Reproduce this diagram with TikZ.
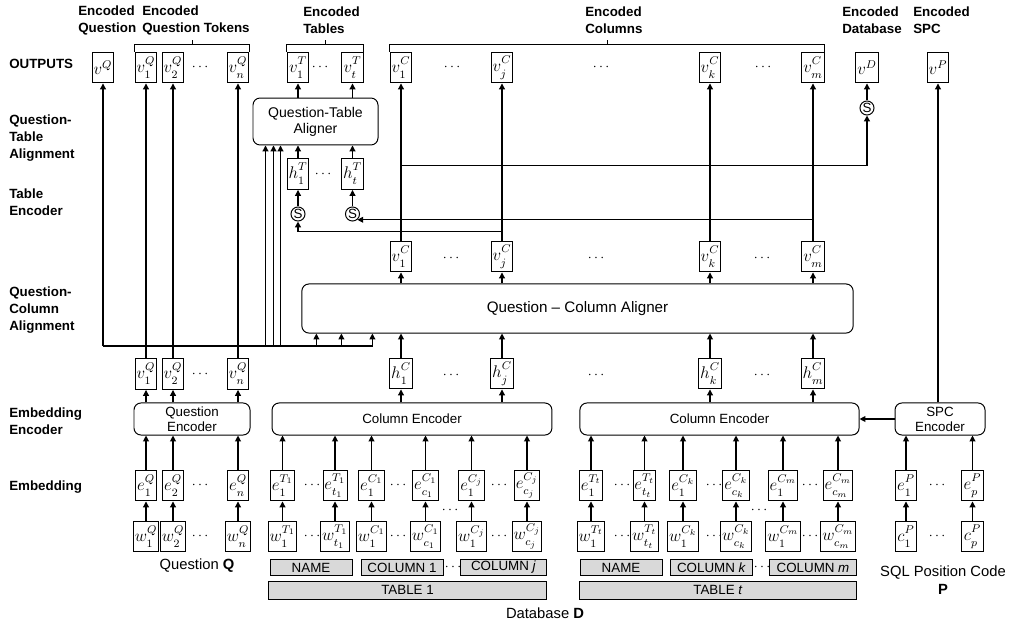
\documentclass[tikz,border=0pt]{standalone}
\usepackage{fontspec}
\setmainfont{Liberation Sans}
\usetikzlibrary{arrows.meta,calc}
\definecolor{barfill}{HTML}{D9D9D9}
\newcommand{\lvec}[3]{$#1^{\raisebox{1.4pt}{$\scriptstyle #2$}}_{\raisebox{-1.2pt}{$\scriptstyle #3$}}$}
\tikzset{
  arr/.style={-{Triangle[length=4.2pt,width=4.2pt]}, line width=0.8pt},
  vbox/.style={draw, line width=0.7pt, minimum width=15.6pt, minimum height=22pt, inner sep=1pt, font=\large},
  blk/.style={draw, line width=0.7pt, rounded corners=5pt, align=center, inner sep=1pt, font=\fontsize{9.5}{10.7}\selectfont},
  gbar/.style={draw, line width=0.7pt, fill=barfill, minimum height=10.7pt, inner sep=0pt, font=\fontsize{9.5}{11}\selectfont},
  sumn/.style={draw, circle, line width=0.7pt, minimum size=10pt, inner sep=0pt, font=\fontsize{9.5}{9.5}\selectfont},
  dotn/.style={inner sep=0pt},
  lbl/.style={anchor=west, align=left, inner xsep=0pt, font=\fontsize{9.5}{12}\selectfont\bfseries},
  captxt/.style={align=center, font=\fontsize{10.5}{13}\selectfont},
  brc/.style={line width=0.7pt},
}
\begin{document}
\begin{tikzpicture}[x=0.025cm, y=-0.025cm]
  \useasboundingbox (0,0) rectangle (1014,626);
  % row labels
  \node[lbl] (lout) at (9,64) {OUTPUTS};
  \node[lbl] (lqta) at (9,138) {Question-\\Table\\Alignment};
  \node[lbl] (lte) at (9,202) {Table\\Encoder};
  \node[lbl] (lqca) at (9,310) {Question-\\Column\\Alignment};
  \node[lbl] (lee) at (9,421) {Embedding\\Encoder};
  \node[lbl] (lemb) at (9,487) {Embedding};
  % heading labels
  \node[lbl] (hdq) at (78,20.5) {Encoded\\Question};
  \node[lbl] (hdqt) at (142,20.5) {Encoded\\Question Tokens};
  \node[lbl] (hdt) at (303,20.5) {Encoded\\Tables};
  \node[lbl] (hdc) at (585,20.5) {Encoded\\Columns};
  \node[lbl] (hdd) at (842,20.5) {Encoded\\Database};
  \node[lbl] (hdp) at (913,20.5) {Encoded\\SPC};
  % outputs
  \node[vbox] (oq) at (103,67.5) {$v^{Q}$};
  \node[vbox] (oq1) at (146,67.5) {\lvec{v}{Q}{1}};
  \node[vbox] (oq2) at (173,67.5) {\lvec{v}{Q}{2}};
  \node[dotn] (doq) at (200,67.5) {$\cdots$};
  \node[vbox] (oqn) at (238,67.5) {\lvec{v}{Q}{n}};
  \node[vbox] (ot1) at (298,67.5) {\lvec{v}{T}{1}};
  \node[dotn] (dot) at (320,67.5) {$\cdots$};
  \node[vbox] (ott) at (352.5,67.5) {\lvec{v}{T}{t}};
  \node[vbox] (oc1) at (401,67.5) {\lvec{v}{C}{1}};
  \node[dotn] (doca) at (452,67.5) {$\cdots$};
  \node[vbox] (ocj) at (502,67.5) {\lvec{v}{C}{j}};
  \node[dotn] (docb) at (601,67.5) {$\cdots$};
  \node[vbox] (ock) at (710,67.5) {\lvec{v}{C}{k}};
  \node[dotn] (docc) at (763,67.5) {$\cdots$};
  \node[vbox] (ocm) at (813,67.5) {\lvec{v}{C}{m}};
  \node[vbox] (od) at (867,67.5) {$v^{D}$};
  \node[vbox] (op) at (938,67.5) {$v^{P}$};
  % braces
  \draw[brc] (oq1.north west) -- ++(0,-7) -| (oqn.north east);
  \draw[brc] ($(oq1.north west)!0.5!(oqn.north east)+(0,-7)$) -- ++(0,-5);
  \draw[brc] (ot1.north west) -- ++(0,-7) -| (ott.north east);
  \draw[brc] ($(ot1.north west)!0.5!(ott.north east)+(0,-7)$) -- ++(0,-5);
  \draw[brc] (oc1.north west) -- ++(0,-7) -| (ocm.north east);
  \draw[brc] ($(oc1.north west)!0.5!(ocm.north east)+(0,-7)$) -- ++(0,-5);
  % table encoder
  \node[blk, minimum width=88.9pt, minimum height=33.4pt, font=\fontsize{10}{11.5}\selectfont] (qta) at (315.5,121.5) {Question-Table\\Aligner};
  \node[vbox] (ht1) at (298,174) {\lvec{h}{T}{1}};
  \node[dotn] (dht) at (323,174) {$\cdots$};
  \node[vbox] (htt) at (352.5,174) {\lvec{h}{T}{t}};
  \node[sumn] (s1) at (298,214) {S};
  \node[sumn] (st) at (352.5,214) {S};
  \node[sumn] (sd) at (867,108) {S};
  % column alignment
  \node[vbox] (vc1) at (401,256.5) {\lvec{v}{C}{1}};
  \node[dotn] (dvca) at (451,258) {$\cdots$};
  \node[vbox] (vcj) at (502,256.5) {\lvec{v}{C}{j}};
  \node[dotn] (dvcb) at (596,258) {$\cdots$};
  \node[vbox] (vck) at (710,256.5) {\lvec{v}{C}{k}};
  \node[dotn] (dvcc) at (762,258) {$\cdots$};
  \node[vbox] (vcm) at (813,256.5) {\lvec{v}{C}{m}};
  \node[blk, minimum width=392pt, minimum height=34.9pt, font=\fontsize{10.8}{13}\selectfont] (qca) at (577.5,308.5) {Question -- Column Aligner};
  \node[vbox] (hc1) at (401,373.5) {\lvec{h}{C}{1}};
  \node[dotn] (dhca) at (451,375) {$\cdots$};
  \node[vbox] (hcj) at (502,373.5) {\lvec{h}{C}{j}};
  \node[dotn] (dhcb) at (596,375) {$\cdots$};
  \node[vbox] (hck) at (710,373.5) {\lvec{h}{C}{k}};
  \node[dotn] (dhcc) at (762,375) {$\cdots$};
  \node[vbox] (hcm) at (813,373.5) {\lvec{h}{C}{m}};
  \node[vbox] (vq1) at (146,374) {\lvec{v}{Q}{1}};
  \node[vbox] (vq2) at (173,374) {\lvec{v}{Q}{2}};
  \node[dotn] (dvq) at (200,374) {$\cdots$};
  \node[vbox] (vqn) at (238,374) {\lvec{v}{Q}{n}};
  % encoders
  \node[blk, minimum width=82.5pt, minimum height=22.8pt] (qenc) at (192,419) {Question\\Encoder};
  \node[blk, minimum width=199pt, minimum height=22.8pt] (cenc1) at (412,419) {Column Encoder};
  \node[blk, minimum width=198.5pt, minimum height=22.8pt] (cenc2) at (719.5,419) {Column Encoder};
  \node[blk, minimum width=64pt, minimum height=22.8pt] (spc) at (940,419) {SPC\\Encoder};
  % embeddings
  \node[vbox] (eq1) at (146,485.5) {\lvec{e}{Q}{1}};
  \node[vbox] (eq2) at (173,485.5) {\lvec{e}{Q}{2}};
  \node[dotn] (deq) at (200,485.5) {$\cdots$};
  \node[vbox] (eqn) at (238,485.5) {\lvec{e}{Q}{n}};
  \node[vbox] (wq1) at (146,536.5) {\lvec{w}{Q}{1}};
  \node[vbox] (wq2) at (173,536.5) {\lvec{w}{Q}{2}};
  \node[dotn] (dwq) at (200,536.5) {$\cdots$};
  \node[vbox] (wqn) at (238,536.5) {\lvec{w}{Q}{n}};
  % table 1
  \node[vbox] (et1a) at (282.5,485.5) {\lvec{e}{T_1}{1}};
  \node[dotn] (det1) at (312,485.5) {$\cdots$};
  \node[vbox] (et1b) at (335,485.5) {\lvec{e}{T_1}{t_1}};
  \node[vbox] (ec1a) at (371.5,485.5) {\lvec{e}{C_1}{1}};
  \node[dotn] (dec1) at (398,485.5) {$\cdots$};
  \node[vbox] (ec1b) at (425.5,485.5) {\lvec{e}{C_1}{c_1}};
  \node[vbox] (ecja) at (471.5,485.5) {\lvec{e}{C_j}{1}};
  \node[dotn] (decj) at (499,485.5) {$\cdots$};
  \node[vbox] (ecjb) at (527,485.5) {\lvec{e}{C_j}{c_j}};
  \node[vbox] (wt1a) at (282.5,536.5) {\lvec{w}{T_1}{1}};
  \node[dotn] (dwt1) at (312,536.5) {$\cdots$};
  \node[vbox] (wt1b) at (335,536.5) {\lvec{w}{T_1}{t_1}};
  \node[vbox] (wc1a) at (371.5,536.5) {\lvec{w}{C_1}{1}};
  \node[dotn] (dwc1) at (398,536.5) {$\cdots$};
  \node[vbox] (wc1b) at (425.5,536.5) {\lvec{w}{C_1}{c_1}};
  \node[vbox] (wcja) at (471.5,536.5) {\lvec{w}{C_j}{1}};
  \node[dotn] (dwcj) at (499,536.5) {$\cdots$};
  \node[vbox] (wcjb) at (527,536.5) {\lvec{w}{C_j}{c_j}};
  \node[dotn] (dmid1) at (450,510) {$\cdots$};
  % table t
  \node[vbox] (etta) at (591,485.5) {\lvec{e}{T_t}{1}};
  \node[dotn] (dett) at (622,485.5) {$\cdots$};
  \node[vbox] (ettb) at (644.5,485.5) {\lvec{e}{T_t}{t_t}};
  \node[vbox] (ecka) at (683,485.5) {\lvec{e}{C_k}{1}};
  \node[dotn] (deck) at (714,485.5) {$\cdots$};
  \node[vbox] (eckb) at (736,485.5) {\lvec{e}{C_k}{c_k}};
  \node[vbox] (ecma) at (783,485.5) {\lvec{e}{C_m}{1}};
  \node[dotn] (decm) at (810,485.5) {$\cdots$};
  \node[vbox] (ecmb) at (838,485.5) {\lvec{e}{C_m}{c_m}};
  \node[vbox] (wtta) at (591,536.5) {\lvec{w}{T_t}{1}};
  \node[dotn] (dwtt) at (622,536.5) {$\cdots$};
  \node[vbox] (wttb) at (644.5,536.5) {\lvec{w}{T_t}{t_t}};
  \node[vbox] (wcka) at (683,536.5) {\lvec{w}{C_k}{1}};
  \node[dotn] (dwck) at (714,536.5) {$\cdots$};
  \node[vbox] (wckb) at (736,536.5) {\lvec{w}{C_k}{c_k}};
  \node[vbox] (wcma) at (783,536.5) {\lvec{w}{C_m}{1}};
  \node[dotn] (dwcm) at (810,536.5) {$\cdots$};
  \node[vbox] (wcmb) at (838,536.5) {\lvec{w}{C_m}{c_m}};
  \node[dotn] (dmid2) at (759,510) {$\cdots$};
  % spc
  \node[vbox] (ep1) at (906,485.5) {\lvec{e}{P}{1}};
  \node[dotn] (dep) at (937,485.5) {$\cdots$};
  \node[vbox] (epp) at (972.5,485.5) {\lvec{e}{P}{p}};
  \node[vbox] (wp1) at (906,536.5) {\lvec{c}{P}{1}};
  \node[dotn] (dwp) at (937,536.5) {$\cdots$};
  \node[vbox] (wpp) at (972.5,536.5) {\lvec{c}{P}{p}};
  % database bars
  \node[gbar, minimum width=58.3pt] (name1) at (311,567.5) {NAME};
  \node[gbar, minimum width=58.3pt] (col1) at (402,567.5) {COLUMN 1};
  \node[dotn] (dcol1) at (453,567.5) {$\cdots$};
  \node[gbar, minimum width=60.5pt] (colj) at (503.5,567.5) {COLUMN \textit{j}};
  \node[gbar, minimum width=197pt, minimum height=12.8pt] (tab1) at (407.5,590) {TABLE 1};
  \node[gbar, minimum width=58.3pt] (namet) at (621,567.5) {NAME};
  \node[gbar, minimum width=59pt] (colk) at (711.5,567.5) {COLUMN \textit{k}};
  \node[dotn] (dcol2) at (762,567.5) {$\cdots$};
  \node[gbar, minimum width=61.2pt] (colm) at (813,567.5) {COLUMN \textit{m}};
  \node[gbar, minimum width=196.3pt, minimum height=12.8pt] (tabt) at (718,590) {TABLE \textit{t}};
  % captions
  \node[captxt] (capq) at (197,566) {Question \textbf{Q}};
  \node[captxt] (capd) at (545,613) {Database \textbf{D}};
  \node[captxt] (capp) at (943,580) {SQL Position Code\\\textbf{P}};
  % embedding arrows
  \foreach \n in {q1,q2,qn} {
    \draw[arr] (w\n) -- (e\n);
    \draw[arr] (e\n) -- (e\n |- qenc.south);
    \draw[arr] (qenc.north -| v\n) -- (v\n);
    \draw[arr] (v\n) -- (o\n);
  }
  \foreach \n in {t1a,t1b,c1a,c1b,cja,cjb} {
    \draw[arr] (w\n) -- (e\n);
    \draw[arr] (e\n) -- (e\n |- cenc1.south);
  }
  \foreach \n in {tta,ttb,cka,ckb,cma,cmb} {
    \draw[arr] (w\n) -- (e\n);
    \draw[arr] (e\n) -- (e\n |- cenc2.south);
  }
  \foreach \n in {p1,pp} {
    \draw[arr] (w\n) -- (e\n);
    \draw[arr] (e\n) -- (e\n |- spc.south);
  }
  \draw[arr] (spc.west) -- (spc.west -| cenc2.east);
  \draw[arr] (spc.north -| op) -- (op);
  % column path
  \foreach \n/\enc in {c1/cenc1,cj/cenc1,ck/cenc2,cm/cenc2} {
    \draw[arr] (\enc.north -| h\n) -- (h\n);
    \draw[arr] (h\n) -- (h\n |- qca.south);
    \draw[arr] (qca.north -| v\n) -- (v\n);
    \draw[arr] (v\n) -- (o\n);
  }
  % table path
  \draw[arr, line width=1.1pt] ($(vcj.north)+(0,-9)$) -| (s1);
  \draw[arr] (vcm.north |- st.-50) -- (st.-50);
  \draw[arr] (s1) -- (ht1);
  \draw[arr] (st) -- (htt);
  \draw[arr] (ht1) -- (ht1 |- qta.south);
  \draw[arr] (htt) -- (htt |- qta.south);
  \draw[arr] (qta.north -| ot1) -- (ot1);
  \draw[arr] (qta.north -| ott) -- (ott);
  % database path
  \draw[arr, line width=1.2pt] ($(vc1.north)+(0,-75)$) -| (sd);
  \draw[arr] (sd) -- (od);
  % question bus
  \coordinate (bus) at ($(vq1.north)+(-43,-12)$);
  \draw[arr] (bus) -- (oq);
  \draw[arr] (bus) -| ($(qta.south west)+(13,0)$);
  \draw[arr] (bus) -| ($(qta.south west)+(21,0)$);
  \draw[arr] (bus) -| ($(qta.south west)+(28,0)$);
  \draw[arr] (bus) -| ($(qca.south west)+(15,0)$);
  \draw[arr] (bus) -| ($(qca.south west)+(40,0)$);
  \draw[arr] (bus) -| ($(qca.south west)+(71,0)$);
\end{tikzpicture}
\end{document}
